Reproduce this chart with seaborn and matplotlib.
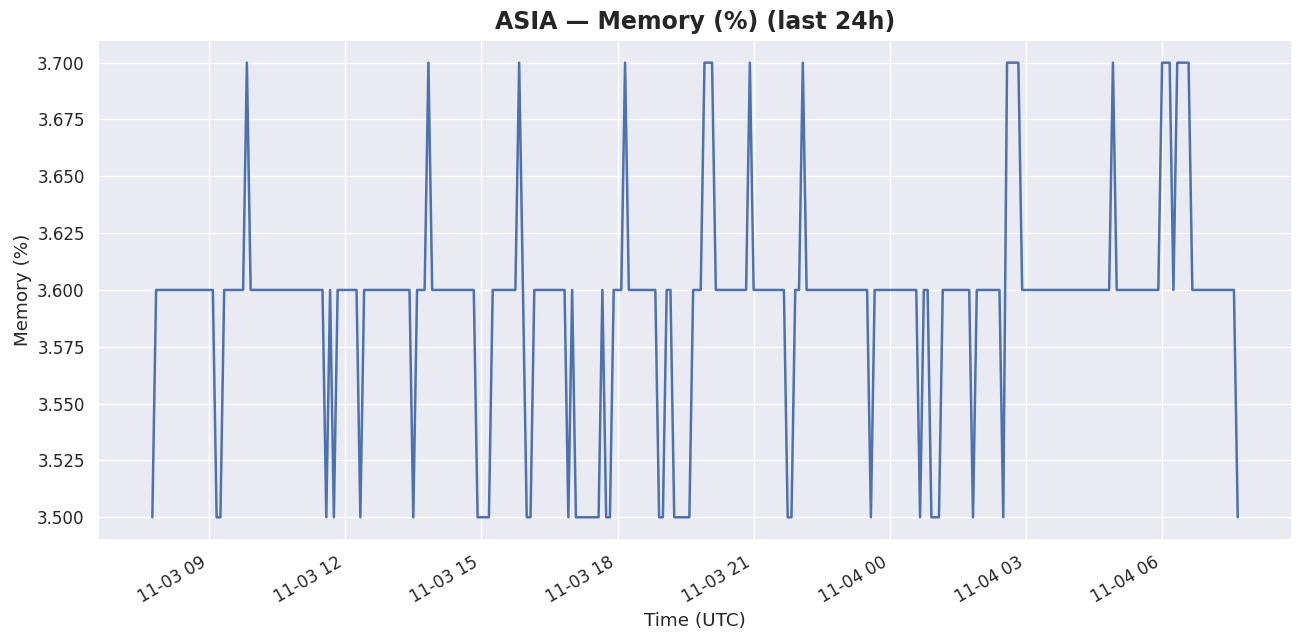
import numpy as np
import pandas as pd
import matplotlib
matplotlib.use("Agg")
import matplotlib.pyplot as plt
import seaborn as sns

# memory readings every 5 minutes, stored as runs: level and number of samples
run_levels = [3.5, 3.6, 3.5, 3.6, 3.7, 3.6, 3.5, 3.6, 3.5, 3.6, 3.5, 3.6, 3.5, 3.6,
              3.7, 3.6, 3.5, 3.6, 3.7, 3.6, 3.5, 3.6, 3.5, 3.6, 3.5, 3.6, 3.5, 3.6,
              3.7, 3.6, 3.5, 3.6, 3.5, 3.6, 3.7, 3.6, 3.7, 3.6, 3.5, 3.6, 3.7, 3.6,
              3.5, 3.6, 3.5, 3.6, 3.5, 3.6, 3.5, 3.6, 3.5, 3.7, 3.6, 3.7, 3.6, 3.7,
              3.6, 3.7, 3.6, 3.5]
run_counts = [1, 16, 2, 6, 1, 20, 1, 1, 1, 6, 1, 13, 1, 3,
              1, 12, 4, 7, 1, 1, 2, 9, 1, 1, 7, 1, 2, 3,
              1, 8, 2, 2, 5, 3, 3, 9, 1, 9, 2, 2, 1, 17,
              1, 12, 1, 2, 3, 8, 1, 7, 1, 4, 24, 1, 12, 3,
              1, 4, 12, 1]

start_time = "2024-11-03 07:45"
step = "5min"

memory = np.repeat(run_levels, run_counts)
times = pd.date_range(start_time, periods=len(memory), freq=step)
df = pd.DataFrame({"time": times, "memory": memory})

sns.set_theme(style="darkgrid", font_scale=1.1)
fig, ax = plt.subplots(figsize=(13.04, 6.44), dpi=100)
sns.lineplot(data=df, x="time", y="memory", ax=ax, color="#4C72B0", linewidth=1.8)

ax.set_title("ASIA — Memory (%) (last 24h)", fontsize=17, fontweight="bold", pad=8)
ax.set_xlabel("Time (UTC)")
ax.set_ylabel("Memory (%)")
fig.autofmt_xdate()
fig.subplots_adjust(left=0.0752, right=0.9908, top=0.938, bottom=0.1615)
fig.savefig("out.png", dpi=100)
